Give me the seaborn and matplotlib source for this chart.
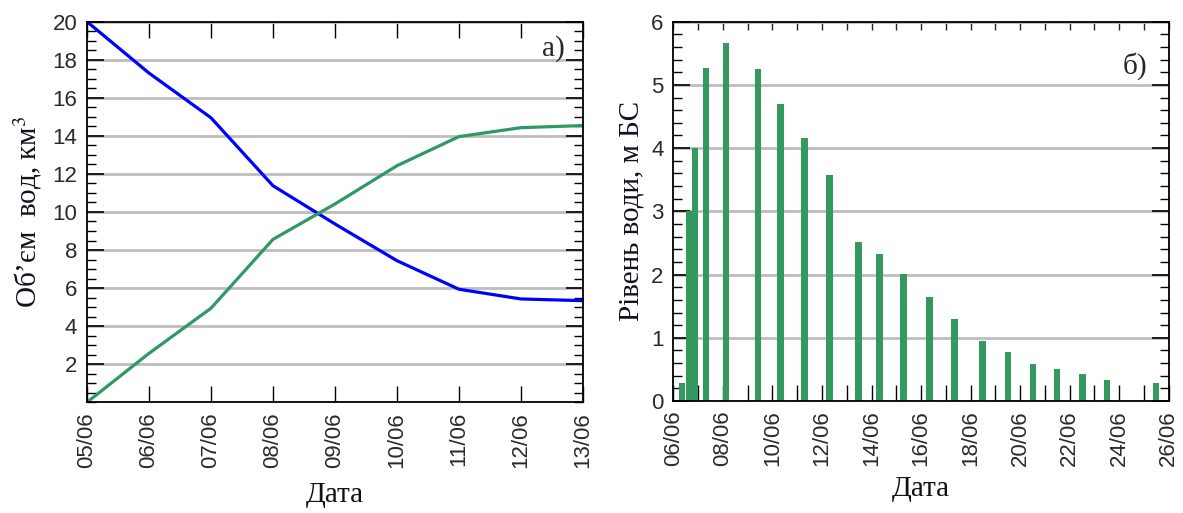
import numpy as np
import pandas as pd
import matplotlib
matplotlib.use("Agg")
import matplotlib.pyplot as plt
from matplotlib.ticker import FuncFormatter, MultipleLocator
import seaborn as sns

# panel a) - water volume, km3 (day of June)
vol_days = [5, 6, 7, 8, 9, 10, 11, 12, 13]
vol_blue = [20.0, 17.3, 14.95, 11.38, 9.37, 7.44, 5.94, 5.43, 5.34]
vol_green = [0.0, 2.57, 4.94, 8.56, 10.42, 12.43, 13.96, 14.43, 14.54]

# panel б) - water level, m (day of June, fractional)
lvl_days = [6.34, 6.64, 6.88, 7.32, 8.13, 9.42, 10.33, 11.29, 12.30, 13.48, 14.33,
            15.30, 16.33, 17.34, 18.49, 19.50, 20.51, 21.48, 22.51, 23.50, 25.48]
lvl_vals = [0.28, 3.0, 4.0, 5.27, 5.67, 5.25, 4.70, 4.16, 3.58, 2.51, 2.33,
            2.01, 1.64, 1.29, 0.95, 0.77, 0.58, 0.50, 0.42, 0.34, 0.29]

sns.set_style("ticks")
plt.rcParams["font.family"] = ["Liberation Sans", "DejaVu Sans"]
plt.rcParams["mathtext.fontset"] = "stix"

SERIF = ["Liberation Serif", "DejaVu Serif"]
date_fmt = FuncFormatter(lambda v, p: f"{int(round(v)):02d}/06")

fig = plt.figure(figsize=(11.83, 5.13), dpi=100)
ax1 = fig.add_axes([0.0735, 0.2158, 0.4193, 0.742])
ax2 = fig.add_axes([0.5692, 0.2183, 0.4188, 0.7394])

df_vol = pd.DataFrame({
    "day": vol_days * 2,
    "volume": vol_blue + vol_green,
    "series": ["blue"] * len(vol_days) + ["green"] * len(vol_days),
})
sns.lineplot(data=df_vol, x="day", y="volume", hue="series",
             palette=["#0000ff", "#2e9962"], linewidth=2.3, legend=False, ax=ax1)

df_lvl = pd.DataFrame({"day": lvl_days, "level": lvl_vals})
bar_w = 0.265 / np.min(np.diff(sorted(lvl_days)))
sns.barplot(data=df_lvl, x="day", y="level", native_scale=True, color="#33995f",
            saturation=1, errorbar=None, width=bar_w, linewidth=0, ax=ax2)

# common styling
for ax in (ax1, ax2):
    ax.set_axisbelow(True)
    ax.yaxis.grid(True, color="#bdbdbd", linewidth=2)
    ax.xaxis.grid(False)
    for s in ax.spines.values():
        s.set_visible(True)
        s.set_color("black")
        s.set_linewidth(1.3)
    ax.tick_params(axis="both", which="both", direction="in", right=True,
                   labelsize=16, labelcolor="#2a2a2a", color="black")
    ax.tick_params(axis="y", which="major", length=12, width=1.2, pad=7)
    ax.tick_params(axis="y", which="minor", length=6.5, width=1.0)
    ax.tick_params(axis="x", which="both", length=11.5, width=1.0, pad=7,
                   labelrotation=90)
    ax.xaxis.set_major_formatter(date_fmt)

# panel a)
ax1.set_xlim(5, 13)
ax1.set_ylim(0, 20)
ax1.set_xticks(vol_days)
ax1.set_yticks(np.arange(2, 21, 2))
ax1.yaxis.set_minor_locator(MultipleLocator(0.5))
ax1.tick_params(axis="x", top=True)
ax1.set_xlabel("Дата", fontsize=21, family=SERIF, color="#111111", labelpad=10)
ax1.set_ylabel("Об’єм  вод, км$^3$", fontsize=21, family=SERIF,
               color="#111122", labelpad=6)
ax1.text(0.94, 0.93, "а)", transform=ax1.transAxes, ha="center", va="center",
         fontsize=21, family=SERIF)

# panel б)
ax2.set_xlim(6, 26)
ax2.set_ylim(0, 6)
ax2.set_xticks(np.arange(6, 27, 2))
ax2.set_xticks(np.arange(6, 27, 1), minor=True)
ax2.xaxis.set_major_formatter(date_fmt)
ax2.set_yticks(np.arange(0, 7, 1))
ax2.yaxis.set_minor_locator(MultipleLocator(0.2))
top = ax2.secondary_xaxis("top")
top.set_xticks(np.arange(6, 27, 1))
top.tick_params(direction="in", length=6, width=1.0, labeltop=False)
ax2.set_xlabel("Дата", fontsize=21, family=SERIF, color="#111111", labelpad=7)
ax2.set_ylabel("Рівень води, м БС", fontsize=21, family=SERIF,
               color="#111122", labelpad=5)
ax2.text(0.932, 0.883, "б)", transform=ax2.transAxes, ha="center", va="center",
         fontsize=21, family=SERIF)

fig.savefig("out.png", dpi=100)
